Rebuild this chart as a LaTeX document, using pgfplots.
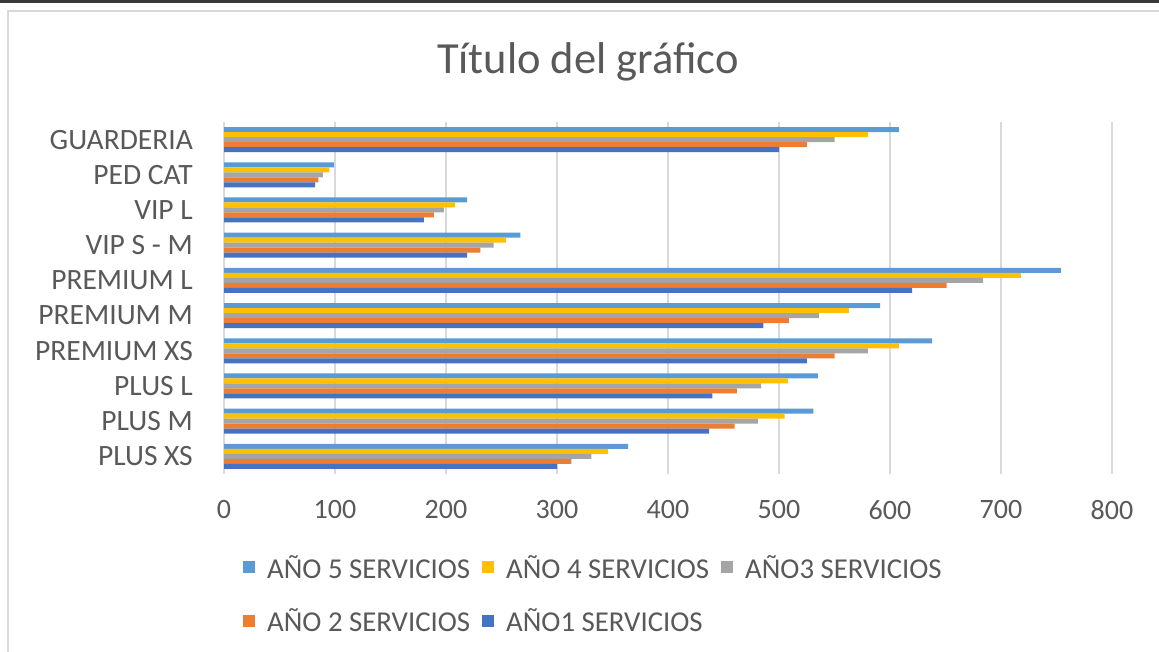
\documentclass[border=0pt]{standalone}
\usepackage{fontspec}
\setmainfont{Carlito}
\usepackage{pgfplots}
\pgfplotsset{compat=1.18}
\definecolor{cA5}{HTML}{5B9BD5}
\definecolor{cA4}{HTML}{FFC000}
\definecolor{cA3}{HTML}{A5A5A5}
\definecolor{cA2}{HTML}{ED7D31}
\definecolor{cA1}{HTML}{4472C4}
\definecolor{txt}{HTML}{595959}
\definecolor{gridc}{HTML}{D9D9D9}
\begin{document}
\begin{tikzpicture}[x=1pt,y=1pt]
\useasboundingbox (0,0) rectangle (1159,652);
\fill[white] (0,0) rectangle (1159,652);
\fill[black!78] (0,649) rectangle (1159,652);
\draw[gridc, line width=2pt] (8,-5) -- (8,641) -- (1170,641);
\node[anchor=base, text=txt, font=\fontsize{44.5}{50}\selectfont, inner sep=0pt] at (588,578) {Título del gráfico};
\begin{axis}[
  at={(224pt,178pt)}, anchor=south west,
  scale only axis, width=888pt, height=352pt,
  xbar, bar width=5pt,
  xmin=0, xmax=800, ymin=-0.5, ymax=9.5,
  xtick={0,100,...,800},
  ytick={0,...,9},
  yticklabels={PLUS XS, PLUS M, PLUS L, PREMIUM XS, PREMIUM M, PREMIUM L, VIP S - M, VIP L, PED CAT, GUARDERIA},
  axis line style={draw=none},
  major tick length=0pt,
  xmajorgrids, grid style={gridc, line width=1.5pt},
  tick label style={font=\fontsize{28}{32}\selectfont, text=txt, inner sep=0pt},
  xticklabel style={anchor=north, yshift=-26pt},
  yticklabel style={anchor=east, xshift=-31pt, font=\fontsize{29.5}{33}\selectfont},
  /pgf/number format/assume math mode=true,
  legend columns=3,
  legend cell align=left,
  legend style={at={(0.0214,-0.23)}, anchor=north west, draw=none, fill=none, inner sep=0pt,
    font=\fontsize{28.8}{32}\selectfont, text=txt, nodes={inner sep=0pt}, row sep=29pt,
    /tikz/every odd column/.append style={column sep=12pt},
    /tikz/every even column/.append style={column sep=12pt}},
  legend image code/.code={\fill[#1] (0pt,-6pt) rectangle (12pt,6pt);},
]
\addplot[fill=cA5, draw=none, bar shift=10pt] coordinates {
 (364,0) (531,1) (535,2) (638,3) (591,4) (754,5) (267,6) (219,7) (99,8) (608,9)};
\addlegendentry{AÑO 5 SERVICIOS}
\addplot[fill=cA4, draw=none, bar shift=5pt] coordinates {
 (346,0) (505,1) (508,2) (608,3) (563,4) (718,5) (254,6) (208,7) (95,8) (580,9)};
\addlegendentry{AÑO 4 SERVICIOS}
\addplot[fill=cA3, draw=none, bar shift=0pt] coordinates {
 (331,0) (481,1) (484,2) (580,3) (536,4) (684,5) (243,6) (198,7) (89,8) (550,9)};
\addlegendentry{AÑO3 SERVICIOS}
\addplot[fill=cA2, draw=none, bar shift=-5pt] coordinates {
 (313,0) (460,1) (462,2) (550,3) (509,4) (651,5) (231,6) (189,7) (85,8) (525,9)};
\addlegendentry{AÑO 2 SERVICIOS}
\addplot[fill=cA1, draw=none, bar shift=-10pt] coordinates {
 (300,0) (437,1) (440,2) (525,3) (486,4) (620,5) (219,6) (180,7) (82,8) (500,9)};
\addlegendentry{AÑO1 SERVICIOS}
\end{axis}
\end{tikzpicture}
\end{document}
